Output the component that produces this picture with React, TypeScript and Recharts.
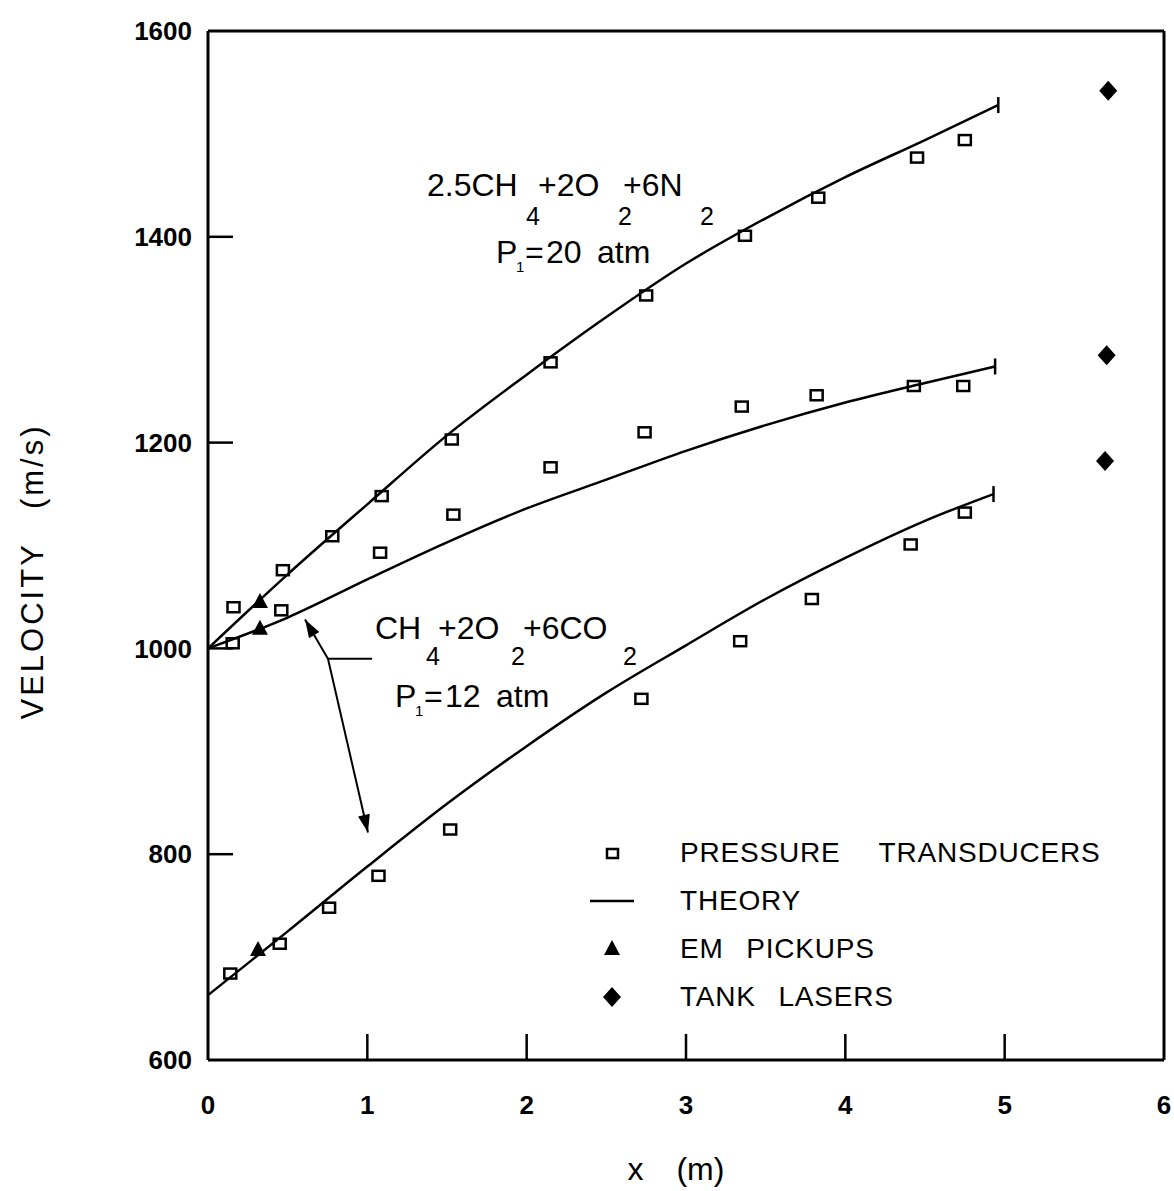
import React from "react";
import {
  ComposedChart,
  Line,
  Scatter,
  XAxis,
  YAxis,
  ReferenceLine,
  ReferenceDot,
  Legend,
} from "recharts";

const FONT = "'Liberation Sans', Arial, sans-serif";

const xTicks = [0, 1, 2, 3, 4, 5, 6];
const yTicks = [600, 800, 1000, 1200, 1400, 1600];

// theory curves (x in m, velocity in m/s)
const theoryN2 = [
  { x: 0, y: 1000 }, { x: 0.5, y: 1072 }, { x: 1, y: 1140 }, { x: 1.5, y: 1207 },
  { x: 2, y: 1266 }, { x: 2.5, y: 1322 }, { x: 3, y: 1374 }, { x: 3.5, y: 1418 },
  { x: 4, y: 1458 }, { x: 4.5, y: 1494 }, { x: 4.96, y: 1528 },
];
const theoryMid = [
  { x: 0, y: 1000 }, { x: 0.5, y: 1030 }, { x: 1, y: 1067 }, { x: 1.5, y: 1103 },
  { x: 2, y: 1136 }, { x: 2.5, y: 1164 }, { x: 3, y: 1192 }, { x: 3.5, y: 1217 },
  { x: 4, y: 1239 }, { x: 4.5, y: 1258 }, { x: 4.94, y: 1274 },
];
const theoryLow = [
  { x: 0, y: 663 }, { x: 0.5, y: 725 }, { x: 1, y: 788 }, { x: 1.5, y: 849 },
  { x: 2, y: 905 }, { x: 2.5, y: 957 }, { x: 3, y: 1003 }, { x: 3.5, y: 1048 },
  { x: 4, y: 1088 }, { x: 4.5, y: 1124 }, { x: 4.93, y: 1150 },
];

// pressure transducers
const ptN2 = [
  { x: 0.16, y: 1040 }, { x: 0.47, y: 1076 }, { x: 0.78, y: 1109 }, { x: 1.09, y: 1148 },
  { x: 1.53, y: 1203 }, { x: 2.15, y: 1278 }, { x: 2.75, y: 1343 }, { x: 3.37, y: 1401 },
  { x: 3.83, y: 1438 }, { x: 4.45, y: 1477 }, { x: 4.75, y: 1494 },
];
const ptMid = [
  { x: 0.155, y: 1005 }, { x: 0.46, y: 1037 }, { x: 1.08, y: 1093 }, { x: 1.54, y: 1130 },
  { x: 2.15, y: 1176 }, { x: 2.74, y: 1210 }, { x: 3.35, y: 1235 }, { x: 3.82, y: 1246 },
  { x: 4.43, y: 1255 }, { x: 4.74, y: 1255 },
];
const ptLow = [
  { x: 0.14, y: 684 }, { x: 0.45, y: 713 }, { x: 0.76, y: 748 }, { x: 1.07, y: 779 },
  { x: 1.52, y: 824 }, { x: 2.72, y: 951 }, { x: 3.34, y: 1007 }, { x: 3.79, y: 1048 },
  { x: 4.41, y: 1101 }, { x: 4.75, y: 1132 },
];

const emPickups = [{ x: 0.326, y: 1045 }, { x: 0.326, y: 1019 }, { x: 0.314, y: 707 }];
const tankLasers = [{ x: 5.65, y: 1542 }, { x: 5.64, y: 1285 }, { x: 5.63, y: 1182 }];

const legendItems = ["PRESSURE TRANSDUCERS", "THEORY", "EM PICKUPS", "TANK LASERS"];

// arrow from the CO2 label to the two curves
const arrowJoint = { x: 0.753, y: 990 };
const arrowStub = { x: 1.03, y: 990 };
const arrowUp = { x: 0.609, y: 1028 };
const arrowDown = { x: 1.004, y: 821 };

const Square = (p: any) => (
  <rect x={p.cx - 6} y={p.cy - 5} width={12} height={10} fill="none" stroke="#000" strokeWidth={2.5} />
);
const Triangle = (p: any) => (
  <polygon points={`${p.cx},${p.cy - 9} ${p.cx - 8},${p.cy + 6} ${p.cx + 8},${p.cy + 6}`} fill="#000" />
);
const Diamond = (p: any) => (
  <polygon points={`${p.cx},${p.cy - 10} ${p.cx + 9},${p.cy} ${p.cx},${p.cy + 10} ${p.cx - 9},${p.cy}`} fill="#000" />
);

const endCap = (len: number) => (p: any) =>
  p.index === len - 1 ? (
    <line key={p.index} x1={p.cx} x2={p.cx} y1={p.cy - 8} y2={p.cy + 8} stroke="#000" strokeWidth={2.5} />
  ) : (
    <g key={p.index} />
  );

const BottomTick = (p: any) => {
  const v = p.payload.value;
  return (
    <g>
      {v > 0 && v < 6 && <line x1={p.x} x2={p.x} y1={p.y} y2={p.y - 26} stroke="#000" strokeWidth={2.5} />}
      <text x={p.x} y={p.y + 54} textAnchor="middle" fontSize={26} fontWeight="bold" fontFamily={FONT} fill="#000">
        {v}
      </text>
    </g>
  );
};
const TopTick = (p: any) => {
  const v = p.payload.value;
  return v > 0 && v < 6 ? <line x1={p.x} x2={p.x} y1={p.y} y2={p.y + 26} stroke="#000" strokeWidth={2.5} /> : <g />;
};
const LeftTick = (p: any) => {
  const v = p.payload.value;
  return (
    <g>
      {v > 600 && v < 1600 && <line x1={p.x} x2={p.x + 25} y1={p.y} y2={p.y} stroke="#000" strokeWidth={2.5} />}
      <text x={p.x - 16} y={p.y} dy="0.35em" textAnchor="end" fontSize={26} fontWeight="bold" fontFamily={FONT} fill="#000">
        {v}
      </text>
    </g>
  );
};
const RightTick = (p: any) => {
  const v = p.payload.value;
  return v > 600 && v < 1600 ? <line x1={p.x} x2={p.x - 22} y1={p.y} y2={p.y} stroke="#000" strokeWidth={2.5} /> : <g />;
};

const Pressure = ({ x, y, value }: { x: number; y: number; value: string }) => (
  <g>
    <text x={x} y={y}>P</text>
    <text x={x + 20} y={y + 9} fontSize={15}>1</text>
    <text x={x + 29} y={y}>=</text>
    <text x={x + 50} y={y}>{value}</text>
    <text x={x + 101} y={y}>atm</text>
  </g>
);

const FormulaN2 = (p: any) => (
  <g fontFamily={FONT} fontSize={32} fill="#000">
    <text x={p.cx} y={p.cy}>2.5CH</text>
    <text x={p.cx + 106} y={p.cy + 29} fontSize={25} textAnchor="middle">4</text>
    <text x={p.cx + 111} y={p.cy}>+2O</text>
    <text x={p.cx + 198} y={p.cy + 29} fontSize={25} textAnchor="middle">2</text>
    <text x={p.cx + 196} y={p.cy}>+6N</text>
    <text x={p.cx + 280} y={p.cy + 29} fontSize={25} textAnchor="middle">2</text>
    <Pressure x={p.cx + 69} y={p.cy + 67} value="20" />
  </g>
);

const FormulaCO2 = (p: any) => (
  <g fontFamily={FONT} fontSize={32} fill="#000">
    <text x={p.cx} y={p.cy}>CH</text>
    <text x={p.cx + 58} y={p.cy + 26} fontSize={25} textAnchor="middle">4</text>
    <text x={p.cx + 63} y={p.cy}>+2O</text>
    <text x={p.cx + 143} y={p.cy + 26} fontSize={25} textAnchor="middle">2</text>
    <text x={p.cx + 148} y={p.cy}>+6CO</text>
    <text x={p.cx + 255} y={p.cy + 26} fontSize={25} textAnchor="middle">2</text>
    <Pressure x={p.cx + 20} y={p.cy + 68} value="12" />
  </g>
);

const arrowHead = (angle: number) => (p: any) => (
  <polygon
    points="0,0 -18,-6 -18,6"
    fill="#000"
    transform={`translate(${p.cx},${p.cy}) rotate(${angle})`}
  />
);

const legendSymbol = (i: number) => {
  if (i === 0) return <rect x={17} y={11} width={11} height={9} fill="none" stroke="#000" strokeWidth={2.5} />;
  if (i === 1) return <line x1={0} x2={44} y1={15} y2={15} stroke="#000" strokeWidth={2.5} />;
  if (i === 2) return <polygon points="22,6 14,21 30,21" fill="#000" />;
  return <polygon points="22,5 31,15 22,25 13,15" fill="#000" />;
};

const renderLegend = () => (
  <div style={{ fontFamily: FONT, fontSize: 28, color: "#000" }}>
    {legendItems.map((name, i) => (
      <div key={name} style={{ display: "flex", alignItems: "center", height: 48 }}>
        <svg width={44} height={30}>{legendSymbol(i)}</svg>
        <span
          style={{
            marginLeft: 46,
            wordSpacing: i === 0 ? 30 : 14,
            letterSpacing: 0.8,
            lineHeight: 1,
            whiteSpace: "nowrap",
          }}
        >
          {name}
        </span>
      </div>
    ))}
  </div>
);

const YLabel = (p: any) => {
  const vb = p.viewBox;
  const cx = vb.x + 32;
  const cy = vb.y + vb.height / 2 + 26;
  return (
    <text
      x={cx}
      y={cy}
      transform={`rotate(-90, ${cx}, ${cy})`}
      textAnchor="middle"
      dy="0.35em"
      fontFamily={FONT}
      fontSize={31}
      letterSpacing={3}
      wordSpacing={22}
      fill="#000"
    >
      VELOCITY (m/s)
    </text>
  );
};

const XLabel = (p: any) => {
  const vb = p.viewBox;
  return (
    <text
      x={vb.x + vb.width / 2 - 10}
      y={vb.y + 120}
      textAnchor="middle"
      fontFamily={FONT}
      fontSize={32}
      wordSpacing={24}
      fill="#000"
    >
      x (m)
    </text>
  );
};

export default function App() {
  return (
    <div style={{ position: "absolute", left: 0, top: 0, background: "#fff" }}>
      <ComposedChart width={1174} height={1191} margin={{ top: 1, right: 0, bottom: 0, left: 0 }}>
        <XAxis
          type="number"
          dataKey="x"
          domain={[0, 6]}
          ticks={xTicks}
          interval={0}
          tickSize={0}
          tickMargin={0}
          tickLine={false}
          axisLine={{ stroke: "#000", strokeWidth: 3 }}
          tick={<BottomTick />}
          height={131}
          label={(p: any) => <XLabel {...p} />}
        />
        <XAxis
          xAxisId="top"
          orientation="top"
          type="number"
          dataKey="x"
          domain={[0, 6]}
          ticks={xTicks}
          interval={0}
          tickSize={0}
          tickMargin={0}
          tickLine={false}
          axisLine={{ stroke: "#000", strokeWidth: 3 }}
          tick={<TopTick />}
          height={30}
        />
        <YAxis
          type="number"
          domain={[600, 1600]}
          ticks={yTicks}
          interval={0}
          tickSize={0}
          tickMargin={0}
          tickLine={false}
          axisLine={{ stroke: "#000", strokeWidth: 3 }}
          tick={<LeftTick />}
          width={208}
          label={(p: any) => <YLabel {...p} />}
        />
        <YAxis
          yAxisId="right"
          orientation="right"
          type="number"
          domain={[600, 1600]}
          ticks={yTicks}
          interval={0}
          tickSize={0}
          tickMargin={0}
          tickLine={false}
          axisLine={{ stroke: "#000", strokeWidth: 3 }}
          tick={<RightTick />}
          width={10}
        />

        <Line data={theoryN2} dataKey="y" type="monotone" stroke="#000" strokeWidth={2.5} dot={endCap(theoryN2.length)} activeDot={false} isAnimationActive={false} />
        <Line data={theoryMid} dataKey="y" type="monotone" stroke="#000" strokeWidth={2.5} dot={endCap(theoryMid.length)} activeDot={false} isAnimationActive={false} />
        <Line data={theoryLow} dataKey="y" type="monotone" stroke="#000" strokeWidth={2.5} dot={endCap(theoryLow.length)} activeDot={false} isAnimationActive={false} />

        <Scatter data={ptN2} dataKey="y" shape={Square} isAnimationActive={false} />
        <Scatter data={ptMid} dataKey="y" shape={Square} isAnimationActive={false} />
        <Scatter data={ptLow} dataKey="y" shape={Square} isAnimationActive={false} />
        <Scatter data={emPickups} dataKey="y" shape={Triangle} isAnimationActive={false} />
        <Scatter data={tankLasers} dataKey="y" shape={Diamond} isAnimationActive={false} />

        <ReferenceLine segment={[arrowJoint, arrowStub]} stroke="#000" strokeWidth={2} />
        <ReferenceLine segment={[arrowJoint, arrowUp]} stroke="#000" strokeWidth={2} />
        <ReferenceLine segment={[arrowJoint, arrowDown]} stroke="#000" strokeWidth={2} />
        <ReferenceDot x={arrowUp.x} y={arrowUp.y} r={0} shape={arrowHead(-120.5)} />
        <ReferenceDot x={arrowDown.x} y={arrowDown.y} r={0} shape={arrowHead(77)} />

        <ReferenceDot x={1.3745} y={1440} r={0} shape={FormulaN2} />
        <ReferenceDot x={1.048} y={1009} r={0} shape={FormulaCO2} />

        <Legend
          layout="vertical"
          align="center"
          verticalAlign="middle"
          content={renderLegend}
          wrapperStyle={{ left: 590, top: 829, width: 560 }}
        />
      </ComposedChart>
    </div>
  );
}
